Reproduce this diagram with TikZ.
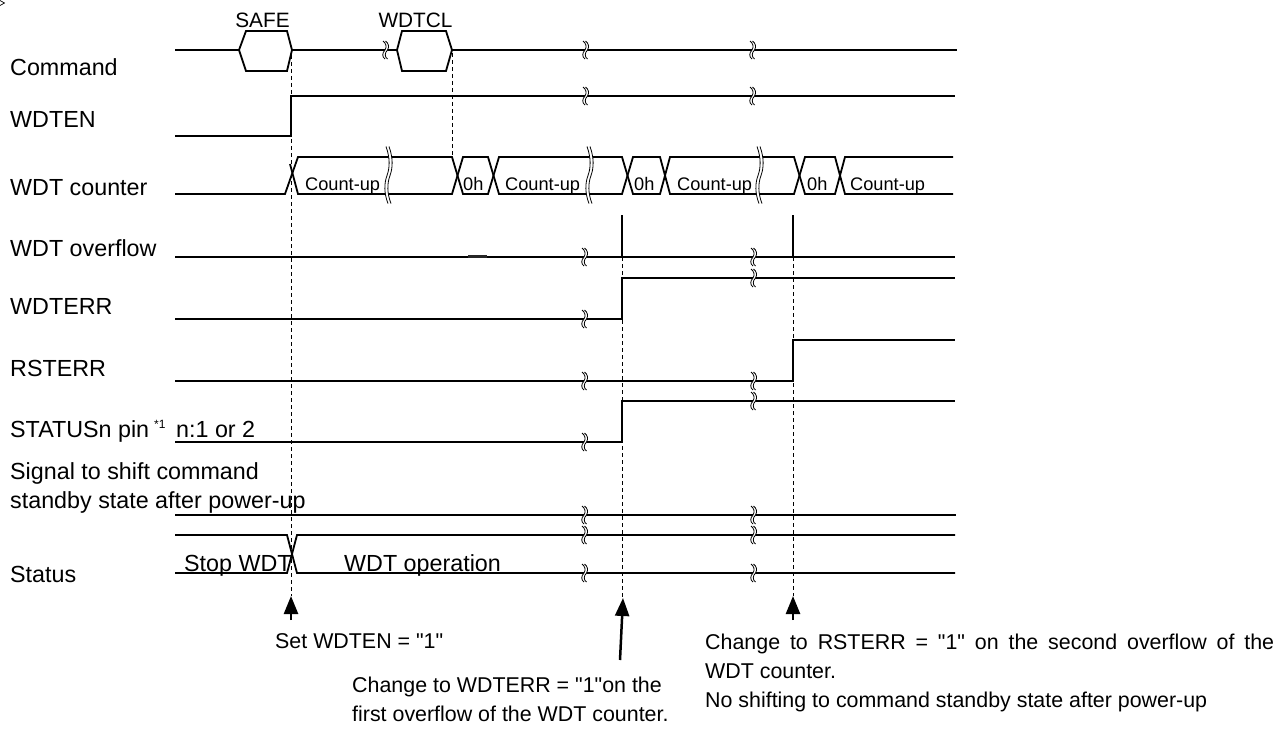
\documentclass[tikz,border=0pt]{standalone}
\usepackage{fontspec}
\setmainfont{Liberation Sans}
\usetikzlibrary{arrows.meta}
\newcommand\dq{\textquotedbl}
\tikzset{
  sig/.style={line width=1.8pt, line join=miter, line cap=butt},
  dashln/.style={line width=0.9pt, dash pattern=on 4pt off 3pt},
  lbl/.style={anchor=base west, inner sep=0pt, font=\fontsize{23.3}{28}\selectfont},
  bustxt/.style={anchor=base west, inner sep=0pt, font=\fontsize{18.2}{22}\selectfont},
  cmdtxt/.style={anchor=base, inner sep=0pt, font=\fontsize{20.8}{24}\selectfont},
  note/.style={anchor=base west, inner sep=0pt, font=\fontsize{21.4}{26}\selectfont},
  uparrow/.style={line width=2.5pt, -{Triangle[length=18pt,width=14pt]}},
  brkmark/.pic={
    \fill[white] (-2,-9) .. controls (1,-7) and (2,-3) .. (0,0) .. controls (-3,3) and (-3,7) .. (0,9)
      -- (2.5,9) .. controls (-0.5,7) and (-0.5,3) .. (2.5,0) .. controls (4.5,-3) and (3.5,-7) .. (0.5,-9) -- cycle;
    \draw[line width=0.8pt] (-2,-9) .. controls (1,-7) and (2,-3) .. (0,0) .. controls (-3,3) and (-3,7) .. (0,9);
    \draw[line width=0.8pt] (0.5,-9) .. controls (3.5,-7) and (4.5,-3) .. (2.5,0) .. controls (-0.5,3) and (-0.5,7) .. (2.5,9);
  },
  busbrk/.pic={
    \fill[white] (-1,-29) .. controls (3,-18) and (3,-8) .. (0,0) .. controls (-3,8) and (-3,18) .. (1,28)
      -- (4,28) .. controls (0,18) and (0,8) .. (3,0) .. controls (6,-8) and (6,-18) .. (2,-29) -- cycle;
    \draw[line width=0.8pt] (-1,-29) .. controls (3,-18) and (3,-8) .. (0,0) .. controls (-3,8) and (-3,18) .. (1,28);
    \draw[line width=0.8pt] (2,-29) .. controls (6,-18) and (6,-8) .. (3,0) .. controls (0,8) and (0,18) .. (4,28);
  },
}
\begin{document}
\begin{tikzpicture}[x=1pt,y=-1pt]
\useasboundingbox (0,0) rectangle (1284,733);
\fill[white] (0,0) rectangle (1284,733);
% corner artifact
\draw[line width=0.7pt] (0,0.5) -- (4.5,3) -- (0,5.5);

% ---------- labels ----------
\node[lbl] (lcmd) at (10,76) {Command};
\node[lbl] (lwdten) at (10,128) {WDTEN};
\node[lbl] (lcnt) at (10,195) {WDT counter};
\node[lbl] (lovf) at (10,256) {WDT overflow};
\node[lbl] (lerr) at (10,314) {WDTERR};
\node[lbl] (lrst) at (10,376) {RSTERR};
\node[lbl] (lstat) at (10,437) {STATUSn pin};
\node[anchor=base west, inner sep=0pt, font=\fontsize{12}{14}\selectfont] (lnote) at (154,428) {*1};
\node[lbl] (lstatn) at (176,437) {n:1 or 2};
\node[lbl] (lsig1) at (10,479) {Signal to shift command};
\node[lbl] (lsig2) at (10,508) {standby state after power-up};
\node[lbl] (lstatus) at (10,582) {Status};

% ---------- dashed guide lines ----------
\draw[dashln] (291,55) -- (291,596);
\draw[dashln] (452,53) -- (452,157);
\draw[dashln] (622,257) -- (622,598);
\draw[dashln] (793,257) -- (793,596);

% ---------- Command ----------
\draw[sig] (175,50) -- (239,50);
\draw[sig] (239,50) -- (246,31) -- (287,31) -- (292,50) -- (287,71) -- (246,71) -- cycle;
\draw[sig] (292,50) -- (397,50);
\draw[sig] (397,50) -- (402,31) -- (446,31) -- (452,50) -- (446,71) -- (402,71) -- cycle;
\draw[sig] (452,50) -- (957,50);
\node[cmdtxt] (tsafe) at (262.5,27.5) {SAFE};
\node[cmdtxt] (twdtcl) at (415.5,27.5) {WDTCL};

% ---------- WDTEN ----------
\draw[sig] (175,136) -- (291,136) -- (291,96) -- (955,96);

% ---------- WDT counter ----------
\draw[sig] (175,194) -- (285,194) -- (298,157) -- (452,157) -- (463,194) -- (488,194) -- (499,157) -- (622,157) -- (633,194) -- (660,194) -- (670,157) -- (794,157) -- (805,194) -- (835,194) -- (845,157) -- (953,157);
\draw[sig] (290,164) -- (298,194) -- (452,194) -- (463,157) -- (488,157) -- (499,194) -- (622,194) -- (633,157) -- (660,157) -- (670,194) -- (794,194) -- (805,157) -- (835,157) -- (845,194) -- (953,194);
\node[bustxt] (c1) at (305,190.5) {Count-up};
\node[bustxt] (z1) at (463,190.5) {0h};
\node[bustxt] (c2) at (505,190.5) {Count-up};
\node[bustxt] (z2) at (634,190.5) {0h};
\node[bustxt] (c3) at (677,190.5) {Count-up};
\node[bustxt] (z3) at (807,190.5) {0h};
\node[bustxt] (c4) at (850,190.5) {Count-up};
\pic at (387,175.5) {busbrk};
\pic at (588,175.5) {busbrk};
\pic at (758,175.5) {busbrk};

% ---------- WDT overflow ----------
\draw[sig] (175,257) -- (955,257);
\draw[line width=2.6pt, black!85] (468,256.6) -- (487,256.6);
\draw[sig] (622,257) -- (622,215);
\draw[sig] (793,257) -- (793,215);

% ---------- WDTERR ----------
\draw[sig] (175,319) -- (622,319) -- (622,278) -- (955,278);
% ---------- RSTERR ----------
\draw[sig] (175,381) -- (793,381) -- (793,340) -- (955,340);
% ---------- STATUSn ----------
\draw[sig] (175,442) -- (622,442) -- (622,401) -- (955,401);
% ---------- Signal to shift ----------
\draw[sig] (175,515) -- (956,515);
% ---------- Status ----------
\draw[sig] (175,535) -- (287,535) -- (297,573) -- (955,573);
\draw[sig] (175,573) -- (287,573) -- (297,535) -- (955,535);
\node[lbl] (sstop) at (184,571) {Stop WDT};
\node[lbl] (sop) at (344,571) {WDT operation};

% ---------- break marks ----------
\foreach \p in {(385,50),(585,50),(752,50),(585,96),(752,96),
  (584,257),(753,257),(584,319),(753,278),(584,381),(753,381),
  (584,442),(753,401),(584,515),(753,515),(584,535),(753,535),(584,573),(753,573)}
  \pic at \p {brkmark};

% ---------- arrows ----------
\coordinate (a1t) at (291,620); \coordinate (a1h) at (291,596);
\coordinate (a2t) at (620,660); \coordinate (a2h) at (623,598);
\coordinate (a3t) at (793,620); \coordinate (a3h) at (793,596);
\draw[uparrow] (a1t) -- (a1h);
\draw[uparrow] (a2t) -- (a2h);
\draw[uparrow] (a3t) -- (a3h);

% ---------- notes ----------
\node[note] (n1) at (275,648) {Set WDTEN = \dq1\dq};
\node[note] (n2a) at (352,692) {Change to WDTERR = \dq1\dq on the};
\node[note] (n2b) at (352,721) {first overflow of the WDT counter.};
\node[note] (n3a) at (705,649) {\makebox[569pt][s]{Change to RSTERR = \dq1\dq\ on the second overflow of the}};
\node[note] (n3b) at (705,678) {WDT counter.};
\node[note] (n3c) at (705,707) {No shifting to command standby state after power-up};
\end{tikzpicture}
\end{document}
